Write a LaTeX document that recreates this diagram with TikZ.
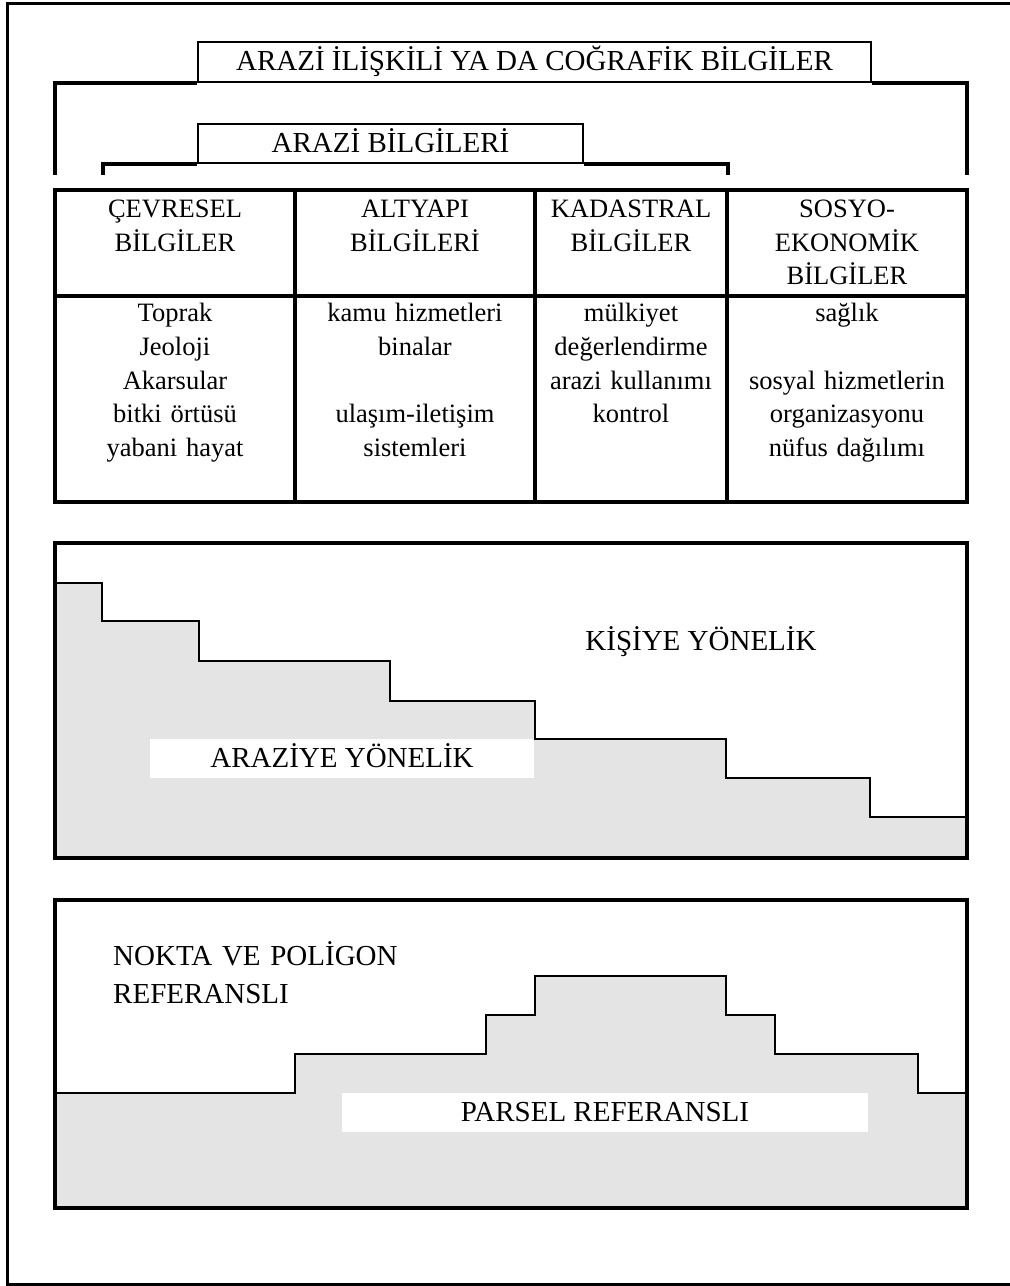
\documentclass[tikz,border=0pt]{standalone}
\usepackage{fontspec}
\setmainfont{Liberation Serif}
\definecolor{landgray}{RGB}{228,228,228}
\begin{document}
\begin{tikzpicture}[x=1pt,y=-1pt,
  heavy/.style={line width=3.5pt},
  thinbox/.style={line width=1.8pt},
  stair/.style={line width=2pt},
  biglabel/.style={font=\fontsize{29}{38.5}\selectfont, inner sep=0pt},
  titlebox/.style={biglabel, text height=17pt, text depth=0pt},
  cell/.style={font=\fontsize{26.5}{33.7}\selectfont, inner sep=0pt,
               anchor=north, align=center, text width=#1},
  cell/.default=225pt]
\useasboundingbox (0,0) rectangle (1010,1286);

% page frame (open on the right)
\draw[line width=3.3pt] (1010,3.3) -- (7.3,3.3) -- (7.3,1284.7) -- (1010,1284.7);

% ---- title boxes and brackets ----
\node[titlebox, draw, thinbox, minimum width=673pt, minimum height=40pt]
  (geo) at (534.5,62) {ARAZİ İLİŞKİLİ YA DA COĞRAFİK BİLGİLER};
\draw[heavy] (55,175) |- (geo.south west);
\draw[heavy] (geo.south east) -| (967,175);

\node[titlebox, draw, thinbox, minimum width=385pt, minimum height=39pt]
  (land) at (390.5,143.5) {ARAZİ BİLGİLERİ};
\draw[heavy] (103,175) |- (land.south west);
\draw[heavy] (land.south east) -| (728,175);

% ---- information table ----
\draw[heavy] (55,190) rectangle (967,502);
\draw[heavy] (55,296) -- (967,296);
\foreach \cx in {295,535,727} \draw[heavy] (\cx,190) -- (\cx,502);

\node[cell] (h1) at (175,193.7) {\strut ÇEVRESEL\\BİLGİLER};
\node[cell] (h2) at (415,193.7) {\strut ALTYAPI\\BİLGİLERİ};
\node[cell=185pt] (h3) at (631,193.7) {\strut KADASTRAL\\BİLGİLER};
\node[cell] (h4) at (847,193.7) {\strut SOSYO-\\EKONOMİK\\BİLGİLER};

\node[cell] (b1) at (175,298.1)
  {\strut Toprak\\Jeoloji\\Akarsular\\bitki örtüsü\\yabani hayat};
\node[cell] (b2) at (415,298.1)
  {\strut kamu hizmetleri\\binalar\\\mbox{}\\ulaşım-iletişim\\sistemleri};
\node[cell=185pt] (b3) at (631,298.1)
  {\strut mülkiyet\\değerlendirme\\arazi kullanımı\\kontrol};
\node[cell] (b4) at (847,298.1)
  {\strut sağlık\\\mbox{}\\sosyal hizmetlerin\\organizasyonu\\nüfus dağılımı};

% ---- land-oriented vs person-oriented ----
\fill[landgray] (55,583) -- (102,583) -- (102,621) -- (199,621) -- (199,661)
  -- (390,661) -- (390,701) -- (535,701) -- (535,739) -- (726,739)
  -- (726,778) -- (870,778) -- (870,817) -- (967,817) -- (967,858)
  -- (55,858) -- cycle;
\draw[stair] (55,583) -- (102,583) -- (102,621) -- (199,621) -- (199,661)
  -- (390,661) -- (390,701) -- (535,701) -- (535,739) -- (726,739)
  -- (726,778) -- (870,778) -- (870,817) -- (967,817);
\node[titlebox, fill=white, minimum width=384pt, minimum height=39pt]
  (arz) at (342,758.5) {ARAZİYE YÖNELİK};
\node[biglabel, anchor=base] (kis) at (701,650) {KİŞİYE YÖNELİK};
\draw[heavy] (55,543) rectangle (967,858);

% ---- parcel vs point/polygon referenced ----
\fill[landgray] (55,1093) -- (295,1093) -- (295,1054) -- (486,1054)
  -- (486,1015) -- (535,1015) -- (535,976) -- (726,976) -- (726,1015)
  -- (775,1015) -- (775,1054) -- (918,1054) -- (918,1093) -- (967,1093)
  -- (967,1208) -- (55,1208) -- cycle;
\draw[stair] (55,1093) -- (295,1093) -- (295,1054) -- (486,1054)
  -- (486,1015) -- (535,1015) -- (535,976) -- (726,976) -- (726,1015)
  -- (775,1015) -- (775,1054) -- (918,1054) -- (918,1093) -- (967,1093);
\node[titlebox, fill=white, minimum width=526pt, minimum height=39pt]
  (prs) at (605,1112.5) {PARSEL REFERANSLI};
\node[biglabel, anchor=north west, align=left, text width=400pt]
  (nok) at (113,938) {\strut NOKTA VE POLİGON\\REFERANSLI};
\draw[heavy] (55,900) rectangle (967,1208);
\end{tikzpicture}
\end{document}
